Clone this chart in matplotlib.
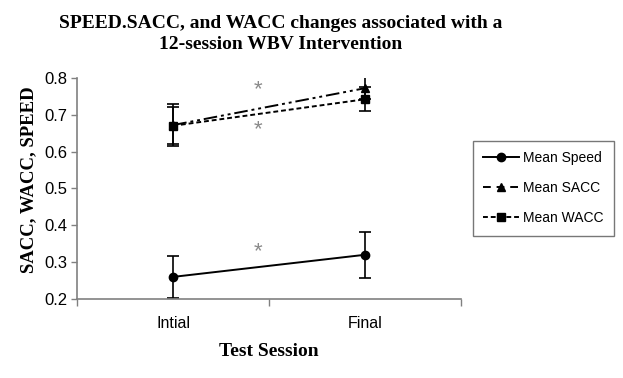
import matplotlib.pyplot as plt
from matplotlib.lines import Line2D

# data
sessions = ["Intial", "Final"]
speed = [0.26, 0.32]
speed_err = [0.058, 0.062]
sacc = [0.672, 0.772]
sacc_err = [0.058, 0.03]
wacc = [0.670, 0.742]
wacc_err = [0.05, 0.032]
star_y = [0.768, 0.659, 0.328]

serif = "Liberation Serif"
sans = "Liberation Sans"
grey = "#808080"

fig = plt.figure(figsize=(6.23, 3.78), dpi=100)
ax = fig.add_axes([0.124, 0.209, 0.616, 0.585])

x = list(range(len(sessions)))
eb = dict(color="black", lw=1.4, capsize=4, elinewidth=1.2, capthick=1.2)
ax.errorbar(x, speed, yerr=speed_err, marker="o", ms=6, **eb)
ax.errorbar(x, sacc, yerr=sacc_err, marker="^", ms=5.5,
            dashes=[7, 2, 1.5, 2, 1.5, 2], **eb)
ax.errorbar(x, wacc, yerr=wacc_err, marker="s", ms=5.5, dashes=[2.5, 1.5], **eb)

for y in star_y:
    ax.text(0.44, y, "*", color="#8a8a8a", fontsize=16, ha="center", va="center",
            family=sans)

ax.set_xlim(-0.5, 1.5)
ax.set_ylim(0.2, 0.8)
ax.set_yticks([0.2, 0.3, 0.4, 0.5, 0.6, 0.7, 0.8])
ax.set_yticklabels(["0.2", "0.3", "0.4", "0.5", "0.6", "0.7", "0.8"], family=sans, fontsize=12)
ax.set_xticks(x)
ax.set_xticklabels(sessions, family=sans, fontsize=11.5)
ax.set_xticks([-0.5, 0.5, 1.5], minor=True)
ax.tick_params(axis="x", which="major", length=0, pad=12)
ax.tick_params(axis="x", which="minor", length=5, color=grey, width=1)
ax.tick_params(axis="y", length=4, color=grey, width=1, pad=3)

for side in ["top", "right"]:
    ax.spines[side].set_visible(False)
for side in ["left", "bottom"]:
    ax.spines[side].set_color(grey)
    ax.spines[side].set_linewidth(1.2)

ax.set_xlabel("Test Session", family=serif, fontweight="bold", fontsize=14, labelpad=9)
ax.set_ylabel("SACC, WACC, SPEED", family=serif, fontweight="bold", fontsize=13.5)
ax.yaxis.set_label_coords(-0.104, 0.54)

fig.text(0.45, 0.91, "SPEED.SACC, and WACC changes associated with a\n12-session WBV Intervention",
         family=serif, fontweight="bold", fontsize=14, ha="center", va="center",
         linespacing=1.3)

handles = [
    Line2D([], [], color="black", lw=1.4, marker="o", ms=6),
    Line2D([], [], color="black", lw=1.4, marker="^", ms=5.5, dashes=[4, 3]),
    Line2D([], [], color="black", lw=1.4, marker="s", ms=5.5, dashes=[2.5, 1.5]),
]
leg = ax.legend(handles, ["Mean Speed", "Mean SACC", "Mean WACC"],
                loc="upper left", bbox_to_anchor=(1.03, 0.715), frameon=True, fancybox=False,
                prop={"family": sans, "size": 10}, labelspacing=1.15, handlelength=2.6,
                handletextpad=0.3, borderpad=0.75, borderaxespad=0)
leg.get_frame().set_edgecolor("#555555")
leg.get_frame().set_linewidth(1.0)

fig.savefig("out.png", dpi=100)
